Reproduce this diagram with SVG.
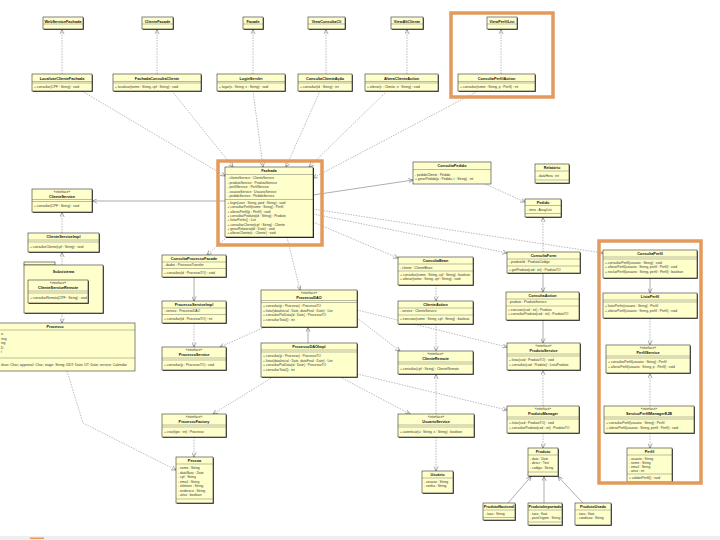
<svg xmlns="http://www.w3.org/2000/svg" width="720" height="540" viewBox="0 0 720 540">
<style>
.b{fill:#ffffcc;stroke:#333;stroke-width:0.6}
.sh{fill:#222}
.sp{stroke:#555;stroke-width:0.4}
.n{font-family:"Liberation Sans",Arial,sans-serif;font-size:3.8px;font-weight:bold;text-anchor:middle;fill:#111}
.st{font-family:"Liberation Sans",Arial,sans-serif;font-size:3.3px;text-anchor:middle;fill:#333}
.t{font-family:"Liberation Sans",Arial,sans-serif;font-size:3.3px;fill:#333}
.d{stroke:#777;stroke-width:0.5;stroke-dasharray:1.5 1.2;fill:none;marker-end:url(#a)}
.s{stroke:#777;stroke-width:0.6;fill:none;marker-end:url(#a)}
.o{fill:none;stroke:#E39A5C;stroke-width:3.5}
</style>
<defs>
<marker id="a" markerWidth="5" markerHeight="5" refX="4.6" refY="2.5" orient="auto" markerUnits="userSpaceOnUse"><path d="M0,0.3 L4.6,2.5 L0,4.7" fill="none" stroke="#555" stroke-width="0.5"/></marker>
</defs>
<rect width="720" height="540" fill="#fff"/>

<g id="connectors">
<path class="d" d="M62,74 L62,29.6"/>
<path class="d" d="M157,74 L157,29.6"/>
<path class="d" d="M253,74 L253,29.6"/>
<path class="d" d="M326,74 L326,29.6"/>
<path class="d" d="M407,74 L407,29.6"/>
<path class="d" d="M501,74 L501,29.6"/>
<path class="d" d="M82,91 L225,176"/>
<path class="d" d="M172,91 L233,167"/>
<path class="d" d="M253,91 L263,167"/>
<path class="d" d="M320,91 L286,167"/>
<path class="d" d="M387,91 L309,167"/>
<path class="d" d="M478,91 L313,178"/>
<path class="s" d="M313,195 L413,180"/>
<path class="s" d="M225,201 L92.5,201"/>
<path class="d" d="M313,209 L603,253"/>
<path class="d" d="M313,214 L507,253"/>
<path class="d" d="M313,222 L398,258"/>
<path class="d" d="M227,237 L207,255"/>
<path class="d" d="M287,237 L300,290"/>
<path class="d" d="M485,184 L525,202"/>
<path class="d" d="M543,252 L543,217.5"/>
<path class="d" d="M62,233 L62,212.5"/>
<path class="d" d="M62,265 L62,252.5"/>
<path class="d" d="M62,313 L62,323"/>
<path class="d" d="M67,371 L83,423 L176,470"/>
<path class="s" d="M194,277 L194,301"/>
<path class="d" d="M194,323 L194,347"/>
<path class="d" d="M265,327 L220,347"/>
<path class="s" d="M308,343 L308,327.5"/>
<path class="d" d="M273,377 L213,414"/>
<path class="d" d="M340,377 L410,414"/>
<path class="d" d="M357,374 L507,410"/>
<path class="d" d="M357,318 L400,351"/>
<path class="d" d="M357,310 L507,347"/>
<path class="d" d="M194,437 L194,457"/>
<path class="d" d="M436,285 L436,301"/>
<path class="d" d="M436,324 L436,351"/>
<path class="d" d="M436,414 L436,374.5"/>
<path class="d" d="M436,437 L436,471"/>
<path class="s" d="M543,273 L543,292"/>
<path class="s" d="M543,320 L543,343"/>
<path class="d" d="M543,406 L543,370.5"/>
<path class="d" d="M543,433 L543,448"/>
<path class="s" d="M508,503 L531,476.5"/>
<path class="s" d="M544,503 L544,476.5"/>
<path class="s" d="M583,503 L558,476.5"/>
<path class="s" d="M650,278 L650,293"/>
<path class="d" d="M650,318 L650,345"/>
<path class="d" d="M650,406 L650,373.5"/>
<path class="d" d="M650,433 L650,448"/>
</g>

<g id="A1"><rect class="sh" x="43.8" y="17.8" width="40" height="12"/><rect class="b" x="43" y="17" width="40" height="12"/><line class="sp" x1="43" y1="24" x2="83" y2="24"/><text class="n" x="63" y="22.5">WebServiceFachada</text></g>
<g id="A2"><rect class="sh" x="142.8" y="17.8" width="31" height="12"/><rect class="b" x="142" y="17" width="31" height="12"/><line class="sp" x1="142" y1="24" x2="173" y2="24"/><text class="n" x="157.5" y="22.5">ClienteFacade</text></g>
<g id="A3"><rect class="sh" x="243.8" y="17.8" width="20" height="12"/><rect class="b" x="243" y="17" width="20" height="12"/><line class="sp" x1="243" y1="24" x2="263" y2="24"/><text class="n" x="253" y="22.5">Facade</text></g>
<g id="A4"><rect class="sh" x="308.8" y="17.8" width="37" height="12"/><rect class="b" x="308" y="17" width="37" height="12"/><line class="sp" x1="308" y1="24" x2="345" y2="24"/><text class="n" x="326.5" y="22.5">ViewConsultaCli</text></g>
<g id="A5"><rect class="sh" x="391.8" y="17.8" width="32" height="12"/><rect class="b" x="391" y="17" width="32" height="12"/><line class="sp" x1="391" y1="24" x2="423" y2="24"/><text class="n" x="407" y="22.5">ViewAltCliente</text></g>
<g id="A6"><rect class="sh" x="487.8" y="17.8" width="30" height="12"/><rect class="b" x="487" y="17" width="30" height="12"/><line class="sp" x1="487" y1="24" x2="517" y2="24"/><text class="n" x="502" y="22.5">ViewPerfilList</text></g>

<g id="B1"><rect class="sh" x="32.8" y="74.8" width="60" height="17"/><rect class="b" x="32" y="74" width="60" height="17"/><line class="sp" x1="32" y1="81.5" x2="92" y2="81.5"/><line class="sp" x1="32" y1="83" x2="92" y2="83"/><text class="n" x="62" y="79.5">LocalizarClienteFachada</text><text class="t" x="34" y="88.3">+ consultar(CPF : String) : void</text></g>
<g id="B2"><rect class="sh" x="113.8" y="74.8" width="88" height="17"/><rect class="b" x="113" y="74" width="88" height="17"/><line class="sp" x1="113" y1="81.5" x2="201" y2="81.5"/><line class="sp" x1="113" y1="83" x2="201" y2="83"/><text class="n" x="157" y="79.5">FachadaConsultaCliente</text><text class="t" x="115" y="88.3">+ localizar(nome : String, cpf : String) : void</text></g>
<g id="B3"><rect class="sh" x="217.8" y="74.8" width="68" height="17"/><rect class="b" x="217" y="74" width="68" height="17"/><line class="sp" x1="217" y1="81.5" x2="285" y2="81.5"/><line class="sp" x1="217" y1="83" x2="285" y2="83"/><text class="n" x="251" y="79.5">LoginServlet</text><text class="t" x="219" y="88.3">+ logar(u : String, s : String) : void</text></g>
<g id="B4"><rect class="sh" x="298.8" y="74.8" width="54" height="17"/><rect class="b" x="298" y="74" width="54" height="17"/><line class="sp" x1="298" y1="81.5" x2="352" y2="81.5"/><line class="sp" x1="298" y1="83" x2="352" y2="83"/><text class="n" x="325" y="79.5">ConsultaClienteAção</text><text class="t" x="300" y="88.3">+ consultar(id : String) : int</text></g>
<g id="B5"><rect class="sh" x="365.8" y="74.8" width="73" height="17"/><rect class="b" x="365" y="74" width="73" height="17"/><line class="sp" x1="365" y1="81.5" x2="438" y2="81.5"/><line class="sp" x1="365" y1="83" x2="438" y2="83"/><text class="n" x="401.5" y="79.5">AlteraClienteAction</text><text class="t" x="367" y="88.3">+ alterar(c : Cliente, n : String) : void</text></g>
<g id="B6"><rect class="sh" x="458.8" y="74.8" width="77" height="17"/><rect class="b" x="458" y="74" width="77" height="17"/><line class="sp" x1="458" y1="81.5" x2="535" y2="81.5"/><line class="sp" x1="458" y1="83" x2="535" y2="83"/><text class="n" x="496.5" y="79.5">ConsultaPerfilAction</text><text class="t" x="460" y="88.3">+ consultar(nome : String, p : Perfil) : int</text></g>

<g id="Fachada"><rect class="sh" x="226" y="168" width="88" height="70"/><rect class="b" x="225" y="167" width="88" height="70"/><line class="sp" x1="225" y1="174.5" x2="313" y2="174.5"/><line class="sp" x1="225" y1="199.5" x2="313" y2="199.5"/>
<text class="n" x="269" y="172.3">Fachada</text>
<text class="t" x="227.5" y="179">- clienteService : ClienteService</text>
<text class="t" x="227.5" y="183.5">- produtoService : ProdutoService</text>
<text class="t" x="227.5" y="188">- perfilService : PerfilService</text>
<text class="t" x="227.5" y="192.5">- usuarioService : UsuarioService</text>
<text class="t" x="227.5" y="197">- pedidoService : PedidoService</text>
<text class="t" x="227.5" y="204">+ login(user : String, pwd : String) : void</text>
<text class="t" x="227.5" y="208.3">+ consultarPerfil(nome : String) : Perfil</text>
<text class="t" x="227.5" y="212.6">+ alterarPerfil(p : Perfil) : void</text>
<text class="t" x="227.5" y="216.9">+ consultarProduto(id : String) : Produto</text>
<text class="t" x="227.5" y="221.2">+ listarPerfis() : List</text>
<text class="t" x="227.5" y="225.5">+ consultarCliente(cpf : String) : Cliente</text>
<text class="t" x="227.5" y="229.8">+ gerarRelatorio(dt : Date) : void</text>
<text class="t" x="227.5" y="234.1">+ alterarCliente(c : Cliente) : void</text></g>

<g id="ConsultaPedido"><rect class="b" x="413" y="162" width="78" height="22"/><line class="sp" x1="413" y1="169.5" x2="491" y2="169.5"/><text class="n" x="452" y="167">ConsultaPedido</text><text class="t" x="415" y="175.5">- pedidoCliente : Pedido</text><text class="t" x="415" y="180">+ gerarPedido(p : Pedido, t : String) : int</text></g>
<g id="Relatorio"><rect class="sh" x="535.8" y="164.8" width="34" height="19"/><rect class="b" x="535" y="164" width="34" height="19"/><line class="sp" x1="535" y1="171" x2="569" y2="171"/><line class="sp" x1="535" y1="180" x2="569" y2="180"/><text class="n" x="552" y="169">Relatório</text><text class="t" x="537" y="177">- dataHora : int</text></g>
<g id="Pedido"><rect class="sh" x="525.8" y="199.8" width="36" height="18"/><rect class="b" x="525" y="199" width="36" height="18"/><line class="sp" x1="525" y1="205.5" x2="561" y2="205.5"/><line class="sp" x1="525" y1="213.5" x2="561" y2="213.5"/><text class="n" x="543" y="203.8">Pedido</text><text class="t" x="527" y="210.5">- itens : ArrayList</text></g>

<g id="ClienteService"><rect class="sh" x="32.8" y="189.8" width="60" height="23"/><rect class="b" x="32" y="189" width="60" height="23"/><line class="sp" x1="32" y1="199.5" x2="92" y2="199.5"/><line class="sp" x1="32" y1="201.5" x2="92" y2="201.5"/><text class="st" x="62" y="193">«interface»</text><text class="n" x="62" y="197.5">ClienteService</text><text class="t" x="34" y="207">+ consultar(CPF : String) : void</text></g>
<g id="ClienteServiceImpl"><rect class="sh" x="28.8" y="233.8" width="71" height="19"/><rect class="b" x="28" y="233" width="71" height="19"/><line class="sp" x1="28" y1="240" x2="99" y2="240"/><line class="sp" x1="28" y1="242" x2="99" y2="242"/><text class="n" x="63.5" y="238">ClienteServiceImpl</text><text class="t" x="30" y="247.5">+ consultarCliente(cpf : String) : void</text></g>
<g id="Subsistema"><rect class="b" x="24" y="262" width="31" height="3"/><rect class="sh" x="24.8" y="265.8" width="79" height="48"/><rect class="b" x="24" y="265" width="79" height="48"/><text class="n" x="63.5" y="273">Subsistema</text>
<rect class="sh" x="28.8" y="280.8" width="60" height="23"/><rect class="b" x="28" y="280" width="60" height="23"/><line class="sp" x1="28" y1="291" x2="88" y2="291"/><line class="sp" x1="28" y1="293" x2="88" y2="293"/><text class="st" x="58" y="284.3">«interface»</text><text class="n" x="58" y="288.7">ClienteServiceRemote</text><text class="t" x="30" y="298.5">+ consultarRemoto(CPF : String) : void</text></g>
<g id="Processo"><rect class="b" x="-30" y="323" width="165" height="48"/><line class="sp" x1="-30" y1="330" x2="135" y2="330"/><line class="sp" x1="-30" y1="358" x2="135" y2="358"/><text class="n" x="55" y="327.8">Processo</text>
<text class="t" x="1" y="335">ic</text><text class="t" x="1" y="339.5">ring</text><text class="t" x="1" y="344">ing</text><text class="t" x="1" y="348.5">D</text><text class="t" x="1" y="353">t</text>
<text class="t" x="1" y="366" textLength="126" lengthAdjust="spacingAndGlyphs">ilean: Char; approval: Char; stage: String; DDT: Date; UT: Date; service: Calendar</text></g>

<g id="ConsultaProcessoFacade"><rect class="sh" x="162.8" y="255.8" width="64" height="22"/><rect class="b" x="162" y="255" width="64" height="22"/><line class="sp" x1="162" y1="262" x2="226" y2="262"/><line class="sp" x1="162" y1="268.5" x2="226" y2="268.5"/><text class="n" x="194" y="260">ConsultaProcessoFacade</text><text class="t" x="164" y="266">- dados : ProcessoTransfer</text><text class="t" x="164" y="274">+ consultar(id : ProcessoTO) : void</text></g>
<g id="ProcessoServiceImpl"><rect class="sh" x="162.8" y="301.8" width="64" height="22"/><rect class="b" x="162" y="301" width="64" height="22"/><line class="sp" x1="162" y1="308" x2="226" y2="308"/><line class="sp" x1="162" y1="314.5" x2="226" y2="314.5"/><text class="n" x="194" y="306">ProcessoServiceImpl</text><text class="t" x="164" y="312">- servico : ProcessoDAO</text><text class="t" x="164" y="320">+ consultar(id : ProcessoTO) : int</text></g>
<g id="ProcessoService"><rect class="sh" x="162.8" y="347.8" width="64" height="23"/><rect class="b" x="162" y="347" width="64" height="23"/><line class="sp" x1="162" y1="358" x2="226" y2="358"/><line class="sp" x1="162" y1="360" x2="226" y2="360"/><text class="st" x="194" y="351">«interface»</text><text class="n" x="194" y="355.5">ProcessoService</text><text class="t" x="164" y="366">+ consultar(p : ProcessoTO) : void</text></g>
<g id="ProcessoDAO"><rect class="sh" x="261.8" y="290.8" width="96" height="37"/><rect class="b" x="261" y="290" width="96" height="37"/><line class="sp" x1="261" y1="300.5" x2="357" y2="300.5"/><line class="sp" x1="261" y1="302.5" x2="357" y2="302.5"/><text class="st" x="309" y="294">«interface»</text><text class="n" x="309" y="298.5">ProcessoDAO</text>
<text class="t" x="263" y="307">+ consultar(p : Processo) : ProcessoTO</text><text class="t" x="263" y="311.5">+ listar(dataInicial : Date, dataFinal : Date) : List</text><text class="t" x="263" y="316">+ consultarPorData(d : Date) : ProcessoTO</text><text class="t" x="263" y="320.5">+ consultarTotal() : int</text></g>
<g id="ProcessoDAOImpl"><rect class="sh" x="261.8" y="343.8" width="96" height="34"/><rect class="b" x="261" y="343" width="96" height="34"/><line class="sp" x1="261" y1="350" x2="357" y2="350"/><line class="sp" x1="261" y1="352" x2="357" y2="352"/><text class="n" x="309" y="348">ProcessoDAOImpl</text>
<text class="t" x="263" y="357">+ consultar(p : Processo) : ProcessoTO</text><text class="t" x="263" y="361.5">+ listar(dataInicial : Date, dataFinal : Date) : List</text><text class="t" x="263" y="366">+ consultarPorData(d : Date) : ProcessoTO</text><text class="t" x="263" y="370.5">+ consultarTotal() : int</text></g>
<g id="ProcessoFactory"><rect class="sh" x="162.8" y="414.8" width="64" height="23"/><rect class="b" x="162" y="414" width="64" height="23"/><line class="sp" x1="162" y1="425" x2="226" y2="425"/><line class="sp" x1="162" y1="427" x2="226" y2="427"/><text class="st" x="194" y="418">«interface»</text><text class="n" x="194" y="422.5">ProcessoFactory</text><text class="t" x="164" y="433">+ criar(tipo : int) : Processo</text></g>
<g id="Pessoa"><rect class="sh" x="176.8" y="457.8" width="37" height="46"/><rect class="b" x="176" y="457" width="37" height="46"/><line class="sp" x1="176" y1="464" x2="213" y2="464"/><line class="sp" x1="176" y1="499" x2="213" y2="499"/><text class="n" x="194.5" y="462">Pessoa</text>
<text class="t" x="178" y="469">- nome : String</text><text class="t" x="178" y="473.5">- dataNasc : Date</text><text class="t" x="178" y="478">- cpf : String</text><text class="t" x="178" y="482.5">- email : String</text><text class="t" x="178" y="487">- telefone : String</text><text class="t" x="178" y="491.5">- endereco : String</text><text class="t" x="178" y="496">- ativo : boolean</text></g>

<g id="ConsultaBean"><rect class="sh" x="398.8" y="257.8" width="75" height="28"/><rect class="b" x="398" y="257" width="75" height="28"/><line class="sp" x1="398" y1="264" x2="473" y2="264"/><line class="sp" x1="398" y1="271" x2="473" y2="271"/><text class="n" x="435.5" y="262">ConsultaBean</text><text class="t" x="400" y="268.5">- cliente : ClienteBean</text><text class="t" x="400" y="275.5">+ consultar(nome : String, cpf : String) : boolean</text><text class="t" x="400" y="280">+ alterar(nome : String, cpf : String) : void</text></g>
<g id="ClienteAction"><rect class="sh" x="398.8" y="301.8" width="75" height="23"/><rect class="b" x="398" y="301" width="75" height="23"/><line class="sp" x1="398" y1="308" x2="473" y2="308"/><line class="sp" x1="398" y1="315" x2="473" y2="315"/><text class="n" x="435.5" y="306">ClienteAction</text><text class="t" x="400" y="312.3">- service : ClienteService</text><text class="t" x="400" y="320">+ executar(nome : String, cpf : String) : boolean</text></g>
<g id="ClienteRemote"><rect class="sh" x="398.8" y="351.8" width="75" height="23"/><rect class="b" x="398" y="351" width="75" height="23"/><line class="sp" x1="398" y1="362" x2="473" y2="362"/><line class="sp" x1="398" y1="364" x2="473" y2="364"/><text class="st" x="435.5" y="355">«interface»</text><text class="n" x="435.5" y="359.5">ClienteRemote</text><text class="t" x="400" y="369.5">+ consultar(cpf : String) : ClienteRemote</text></g>
<g id="UsuarioService"><rect class="sh" x="398.8" y="414.8" width="76" height="23"/><rect class="b" x="398" y="414" width="76" height="23"/><line class="sp" x1="398" y1="425" x2="474" y2="425"/><line class="sp" x1="398" y1="427" x2="474" y2="427"/><text class="st" x="436" y="418">«interface»</text><text class="n" x="436" y="422.5">UsuarioService</text><text class="t" x="400" y="433">+ autenticar(u : String, s : String) : boolean</text></g>
<g id="Usuario"><rect class="sh" x="422.8" y="471.8" width="31" height="22"/><rect class="b" x="422" y="471" width="31" height="22"/><line class="sp" x1="422" y1="478" x2="453" y2="478"/><text class="n" x="437.5" y="475.8">Usuário</text><text class="t" x="424" y="482.5">- usuario : String</text><text class="t" x="424" y="487">- senha : String</text></g>

<g id="ConsultaForm"><rect class="sh" x="507.8" y="252.8" width="73" height="21"/><rect class="b" x="507" y="252" width="73" height="21"/><line class="sp" x1="507" y1="259" x2="580" y2="259"/><line class="sp" x1="507" y1="266" x2="580" y2="266"/><text class="n" x="543.5" y="257">ConsultaForm</text><text class="t" x="509" y="263.3">- produtoId : ProdutoCodigo</text><text class="t" x="509" y="270.5">+ getProduto(cod : int) : ProdutoTO</text></g>
<g id="ConsultaAction"><rect class="sh" x="506.8" y="292.8" width="73" height="28"/><rect class="b" x="506" y="292" width="73" height="28"/><line class="sp" x1="506" y1="299" x2="579" y2="299"/><line class="sp" x1="506" y1="306" x2="579" y2="306"/><text class="n" x="542.5" y="297">ConsultaAction</text><text class="t" x="508" y="303.3">- produto : ProdutoService</text><text class="t" x="508" y="310.5">+ executar(cod : int) : Produto</text><text class="t" x="508" y="315">+ consultarProduto(cod : int) : ProdutoTO</text></g>
<g id="ProdutoService"><rect class="sh" x="507.8" y="343.8" width="73" height="27"/><rect class="b" x="507" y="343" width="73" height="27"/><line class="sp" x1="507" y1="354" x2="580" y2="354"/><line class="sp" x1="507" y1="356" x2="580" y2="356"/><text class="st" x="543.5" y="347">«interface»</text><text class="n" x="543.5" y="351.5">ProdutoService</text><text class="t" x="509" y="361">+ listar(cod : ProdutoTO) : void</text><text class="t" x="509" y="365.5">+ consultar(cod : Produto) : ListaProduto</text></g>
<g id="ProdutoManager"><rect class="sh" x="507.8" y="406.8" width="72" height="27"/><rect class="b" x="507" y="406" width="72" height="27"/><line class="sp" x1="507" y1="417" x2="579" y2="417"/><line class="sp" x1="507" y1="419" x2="579" y2="419"/><text class="st" x="543" y="410">«interface»</text><text class="n" x="543" y="414.5">ProdutoManager</text><text class="t" x="509" y="424">+ listar(cod : ProdutoTO) : void</text><text class="t" x="509" y="428.5">+ consultarProduto(cod : int) : ProdutoTO</text></g>
<g id="Produto"><rect class="sh" x="528.8" y="448.8" width="30" height="28"/><rect class="b" x="528" y="448" width="30" height="28"/><line class="sp" x1="528" y1="455" x2="558" y2="455"/><line class="sp" x1="528" y1="472" x2="558" y2="472"/><text class="n" x="543" y="452.8">Produto</text><text class="t" x="530" y="459.5">- data : Date</text><text class="t" x="530" y="464">- descr : Text</text><text class="t" x="530" y="468.5">- codigo : String</text></g>
<g id="ProdutoNacional"><rect class="sh" x="483.8" y="503.8" width="32" height="17"/><rect class="b" x="483" y="503" width="32" height="17"/><line class="sp" x1="483" y1="510" x2="515" y2="510"/><line class="sp" x1="483" y1="517.5" x2="515" y2="517.5"/><text class="n" x="499" y="507.8">ProdutoNacional</text><text class="t" x="485" y="515">- taxa : String</text></g>
<g id="ProdutoImportado"><rect class="sh" x="528.8" y="503.8" width="34" height="22"/><rect class="b" x="528" y="503" width="34" height="22"/><line class="sp" x1="528" y1="510" x2="562" y2="510"/><line class="sp" x1="528" y1="522" x2="562" y2="522"/><text class="n" x="545" y="507.8">ProdutoImportado</text><text class="t" x="530" y="514.5">- taxa : float</text><text class="t" x="530" y="519">- paisOrigem : String</text></g>
<g id="ProdutoUsado"><rect class="sh" x="575.8" y="503.8" width="36" height="22"/><rect class="b" x="575" y="503" width="36" height="22"/><line class="sp" x1="575" y1="510" x2="611" y2="510"/><text class="n" x="593" y="507.8">ProdutoUsado</text><text class="t" x="577" y="514.5">- taxa : float</text><text class="t" x="577" y="519">- condicao : String</text></g>

<g id="ConsultaPerfil"><rect class="sh" x="603.8" y="250.8" width="94" height="28"/><rect class="b" x="603" y="250" width="94" height="28"/><line class="sp" x1="603" y1="257" x2="697" y2="257"/><line class="sp" x1="603" y1="259" x2="697" y2="259"/><text class="n" x="650" y="255">ConsultaPerfil</text><text class="t" x="605" y="263.5">+ consultarPerfil(usuario : String) : void</text><text class="t" x="605" y="268">+ alterarPerfil(usuario : String, perfil : Perfil) : void</text><text class="t" x="605" y="272.5">+ excluirPerfil(usuario : String, perfil : Perfil) : boolean</text></g>
<g id="ListaPerfil"><rect class="sh" x="603.8" y="293.8" width="94" height="25"/><rect class="b" x="603" y="293" width="94" height="25"/><line class="sp" x1="603" y1="300" x2="697" y2="300"/><line class="sp" x1="603" y1="302" x2="697" y2="302"/><text class="n" x="650" y="298">ListaPerfil</text><text class="t" x="605" y="307">+ listarPerfis(usuario : String) : Perfil</text><text class="t" x="605" y="311.5">+ alterarPerfil(usuario : String, perfil : Perfil) : void</text></g>
<g id="PerfilService"><rect class="sh" x="606.8" y="345.8" width="84" height="28"/><rect class="b" x="606" y="345" width="84" height="28"/><line class="sp" x1="606" y1="356" x2="690" y2="356"/><line class="sp" x1="606" y1="358" x2="690" y2="358"/><text class="st" x="648" y="349">«interface»</text><text class="n" x="648" y="353.5">PerfilService</text><text class="t" x="608" y="363">+ consultarPerfil(usuario : String) : Perfil</text><text class="t" x="608" y="367.5">+ alterarPerfil(usuario : String, p : Perfil) : void</text></g>
<g id="PerfilManagerEJB"><rect class="sh" x="604.8" y="406.8" width="90" height="27"/><rect class="b" x="604" y="406" width="90" height="27"/><line class="sp" x1="604" y1="417" x2="694" y2="417"/><line class="sp" x1="604" y1="419" x2="694" y2="419"/><text class="st" x="649" y="410">«interface»</text><text class="n" x="649" y="414.5">ServicoPerfilManagerEJB</text><text class="t" x="606" y="424">+ consultarPerfil(usuario : String) : Perfil</text><text class="t" x="606" y="428.5">+ alterarPerfil(usuario : String, perfil : Perfil) : void</text></g>
<g id="Perfil"><rect class="sh" x="627.8" y="448.8" width="45" height="34"/><rect class="b" x="627" y="448" width="45" height="34"/><line class="sp" x1="627" y1="455" x2="672" y2="455"/><line class="sp" x1="627" y1="474" x2="672" y2="474"/><text class="n" x="649.5" y="452.8">Perfil</text><text class="t" x="629" y="459.5">- usuario : String</text><text class="t" x="629" y="463.5">- nome : String</text><text class="t" x="629" y="467.5">- email : String</text><text class="t" x="629" y="471.5">- ativo : int</text><text class="t" x="629" y="479">+ validarPerfil() : void</text></g>

<g id="highlights">
<rect class="o" x="451" y="13" width="102" height="84"/>
<rect class="o" x="218" y="161" width="104" height="84"/>
<rect class="o" x="599" y="241" width="102" height="242"/>
</g>
<rect x="0" y="536" width="720" height="4" fill="#eeeeee"/>
<rect x="30" y="537.5" width="14" height="1.5" fill="#E39A5C"/>
</svg>
